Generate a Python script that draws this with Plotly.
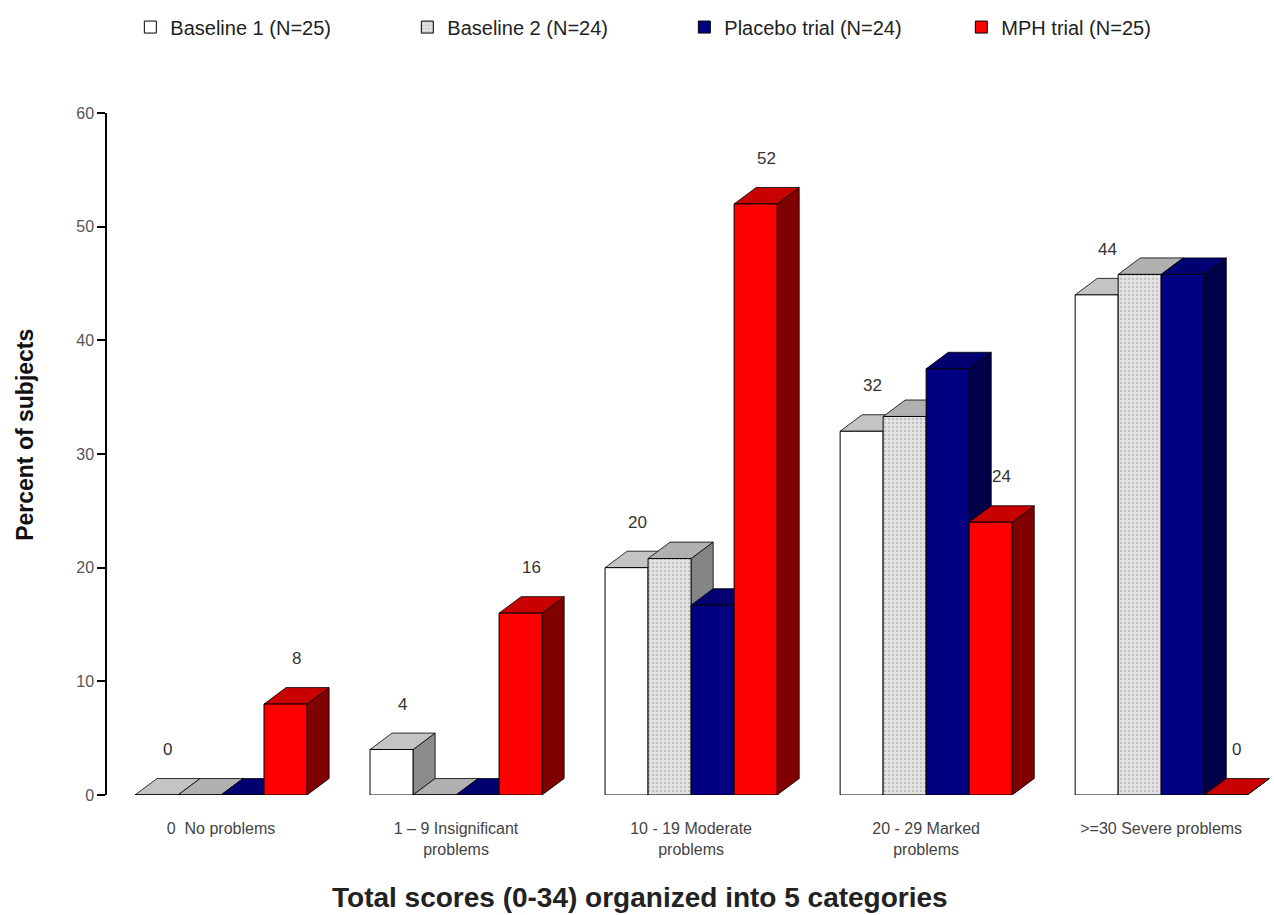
import plotly.graph_objects as go

# Percent of subjects per total-score category
categories = [
    "0  No problems",
    "1 – 9 Insignificant<br>problems",
    "10 - 19 Moderate<br>problems",
    "20 - 29 Marked<br>problems",
    ">=30 Severe problems",
]
series_names = [
    "Baseline 1 (N=25)",
    "Baseline 2 (N=24)",
    "Placebo trial (N=24)",
    "MPH trial (N=25)",
]
baseline1 = [0, 4, 20, 32, 44]
baseline2 = [0, 0, 20.8, 33.3, 45.8]
placebo = [0, 0, 16.7, 37.5, 45.8]
mph = [8, 16, 52, 24, 0]
labelled = [True, False, False, True]   # series that carry value labels

y_ticks = [0, 10, 20, 30, 40, 50, 60]

series_values = [baseline1, baseline2, placebo, mph]

# styling: front colour, top face, side face
front_colors = ["#ffffff", "#e4e4e4", "#000080", "#ff0000"]
top_colors = ["#c4c4c4", "#b0b0b0", "#000070", "#c80000"]
side_colors = ["#8c8c8c", "#858585", "#00004a", "#800000"]

FONT = "Liberation Sans, Arial, sans-serif"
n_series = len(series_values)
bargap = 0.268
bar_w = (1 - bargap) / n_series
depth_x = 0.094      # depth offset along x (category units)
depth_y = 1.45       # depth offset along y (percent units)

x_pos = list(range(len(categories)))

fig = go.Figure()
shapes = []
annotations = []

for k, (name, vals) in enumerate(zip(series_names, series_values)):
    marker = dict(color=front_colors[k], line=dict(color="#000000", width=1))
    if k == 1:
        marker["pattern"] = dict(shape=".", fgcolor="#a0a0a0", bgcolor="#e4e4e4",
                                 size=4, solidity=0.35)
    fig.add_trace(go.Bar(name=name, x=x_pos, y=vals, marker=marker,
                         hoverinfo="skip"))

    for i, v in enumerate(vals):
        x0 = x_pos[i] - (1 - bargap) / 2 + k * bar_w
        x1 = x0 + bar_w
        # side face
        shapes.append(dict(
            type="path", xref="x", yref="y", layer="below",
            path=f"M{x1},0 L{x1 + depth_x},{depth_y} L{x1 + depth_x},{v + depth_y} L{x1},{v} Z",
            fillcolor=side_colors[k], line=dict(color="#000000", width=0.8)))
        # top face
        shapes.append(dict(
            type="path", xref="x", yref="y", layer="below",
            path=f"M{x0},{v} L{x1},{v} L{x1 + depth_x},{v + depth_y} L{x0 + depth_x},{v + depth_y} Z",
            fillcolor=top_colors[k], line=dict(color="#000000", width=0.8)))
        if labelled[k]:
            annotations.append(dict(
                x=(x0 + x1) / 2 + depth_x / 2, y=v, xref="x", yref="y",
                text=f"{v:g}", showarrow=False, yanchor="bottom", yshift=34,
                font=dict(family=FONT, size=17, color="#333333")))

# axis titles
annotations.append(dict(
    x=-0.0703, y=0.528, xref="paper", yref="paper", textangle=-90,
    xanchor="center", yanchor="middle",
    text="<b>Percent of subjects</b>", showarrow=False,
    font=dict(family=FONT, size=23, color="#111111")))
annotations.append(dict(
    x=0.4567, y=-0.1496, xref="paper", yref="paper", yanchor="middle",
    text="<b>Total scores (0-34) organized into 5 categories</b>", showarrow=False,
    font=dict(family=FONT, size=28, color="#222222")))

fig.update_layout(
    width=1274, height=915,
    margin=dict(l=107, r=0, t=113, b=120),
    paper_bgcolor="#ffffff", plot_bgcolor="#ffffff",
    barmode="group", bargap=bargap, bargroupgap=0,
    shapes=shapes, annotations=annotations,
    font=dict(family=FONT, color="#333333"),
    legend=dict(orientation="h", x=0.02, xanchor="left", y=1.126, yanchor="middle",
                font=dict(family=FONT, size=20, color="#222222"),
                entrywidth=232, entrywidthmode="pixels", traceorder="normal",
                itemwidth=30),
    xaxis=dict(range=[-0.485, 4.48], tickvals=x_pos, ticktext=categories,
               showline=False, showgrid=False, zeroline=False, ticks="",
               tickfont=dict(family=FONT, size=16, color="#444444"),
               ticklabelstandoff=22),
    yaxis=dict(range=[0, 60], tickvals=y_ticks, showgrid=False, zeroline=False,
               showline=True, linecolor="#000000", linewidth=1.5,
               ticks="outside", ticklen=8, tickcolor="#000000", tickwidth=1.5,
               tickfont=dict(family=FONT, size=16, color="#555555")),
    showlegend=True,
)

fig.write_html("out.html")
